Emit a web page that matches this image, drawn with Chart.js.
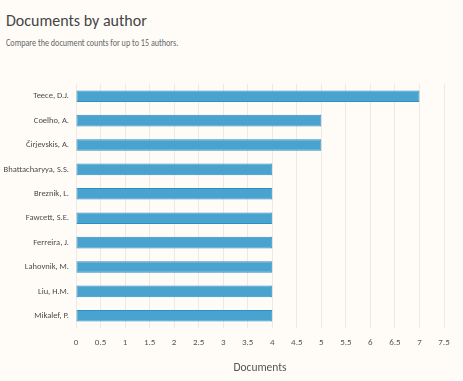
<!DOCTYPE html>
<html><head><meta charset="utf-8">
<script src="https://cdn.jsdelivr.net/npm/chart.js@4"></script>
<style>
html,body{margin:0;padding:0;background:#fffcf8;width:463px;height:381px;overflow:hidden;font-family:Carlito,Lato,sans-serif}
#t{position:absolute;left:6px;top:11px;font-size:16px;line-height:20px;color:#444;white-space:nowrap}
#s{position:absolute;left:6px;top:36px;font-size:11px;line-height:14px;color:#666;white-space:nowrap;transform:scaleX(0.74);transform-origin:0 0}
#w{position:absolute;left:0;top:0;width:463px;height:381px}
</style></head><body>
<div id="t">Documents by author</div>
<div id="s">Compare the document counts for up to 15 authors.</div>
<div id="w"><canvas id="c" width="463" height="381"></canvas></div>
<script>
const authors=['Teece, D.J.','Coelho, A.','Čirjevskis, A.','Bhattacharyya, S.S.','Breznik, L.','Fawcett, S.E.','Ferreira, J.','Lahovnik, M.','Liu, H.M.','Mikalef, P.'];
const documents=[7,5,5,4,4,4,4,4,4,4];
const xMin=0,xMax=7.5,xStep=0.5;
const axisTitle='Documents';

new Chart(document.getElementById('c'),{
  type:'bar',
  data:{labels:authors,datasets:[{data:documents,backgroundColor:'#4aa2ce',borderColor:'#2b90c6',borderWidth:1,borderSkipped:false,barPercentage:0.5,categoryPercentage:0.95}]},
  options:{
    indexAxis:'y',responsive:false,animation:false,devicePixelRatio:1,
    layout:{padding:{top:84,right:19,bottom:0,left:0}},
    plugins:{legend:{display:false},tooltip:{enabled:false}},
    scales:{
      x:{min:xMin,max:xMax,
        ticks:{stepSize:xStep,color:'#555',font:{family:'Carlito',size:9},padding:9,maxRotation:0,autoSkip:false,
          callback:v=>String(Math.round(v*10)/10)},
        grid:{color:'#f0e8e3',drawTicks:false},border:{display:false},
        title:{display:true,text:axisTitle,color:'#555',font:{family:'Carlito',size:11.5},padding:{top:8,bottom:6}},
        afterFit(s){s.height=381-328;}
      },
      y:{
        ticks:{color:'#4a4a4a',font:{family:'Carlito',size:8.5},padding:7,autoSkip:false},
        grid:{display:false,drawTicks:false},border:{display:false},
        afterFit(s){s.width=76;}
      }
    }
  }
});
</script>
</body></html>
